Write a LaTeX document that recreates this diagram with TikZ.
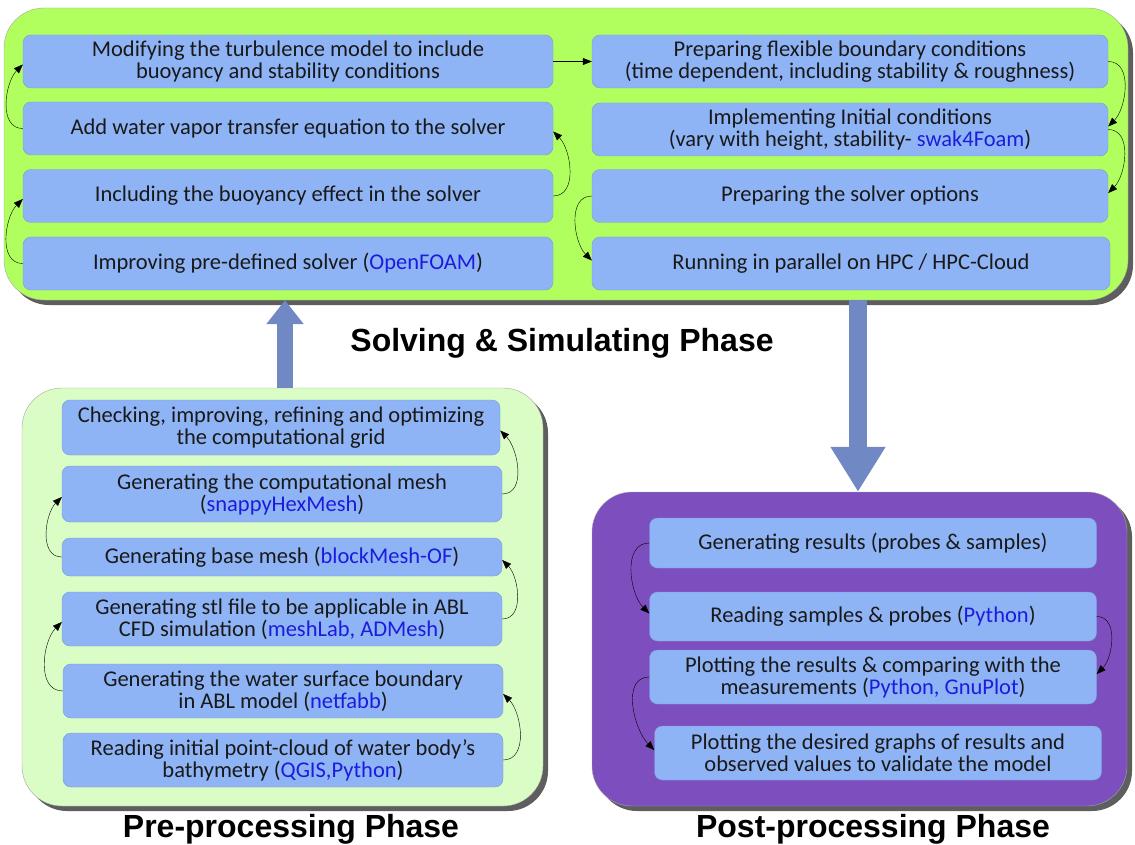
\documentclass[tikz,border=0pt]{standalone}
\usepackage{fontspec}
\newfontfamily\boxfont{Carlito}
\newfontfamily\headfont{Liberation Sans}
\usepackage{tikz}
\usetikzlibrary{arrows.meta,positioning,calc,shadows}

\definecolor{solvegreen}{RGB}{176,255,94}
\definecolor{pregreen}{RGB}{217,253,196}
\definecolor{postpurple}{RGB}{125,78,189}
\definecolor{boxblue}{RGB}{143,180,246}
\definecolor{boxline}{RGB}{120,155,215}
\definecolor{toolblue}{RGB}{28,28,220}
\definecolor{flowblue}{RGB}{112,137,196}
\newcommand{\tool}[1]{\textcolor{toolblue}{#1}}

\begin{document}
\begin{tikzpicture}[x=1pt,y=1pt,
  font={\boxfont\fontsize{22.5}{22}\selectfont},
  panel/.style={rounded corners=40pt,draw=black!35,inner sep=0pt,
    drop shadow={shadow xshift=5pt,shadow yshift=-5pt,fill=black!70,opacity=.9}},
  stepbox/.style={draw=boxline,fill=boxblue,rounded corners=8pt,align=center,inner sep=0pt,text=black!90},
  link/.style={-{Triangle[length=9pt,width=7pt]},thin},
  bigarrow/.style={draw=flowblue,line width=#1},
  phasetitle/.style={font={\headfont\bfseries\fontsize{32}{36}\selectfont},anchor=base}]
\useasboundingbox (0,0) rectangle (1135,-845);

% panels
\node[panel,fill=solvegreen,minimum width=1124pt,minimum height=292pt] (solve) at (566,-154) {};
\node[panel,fill=pregreen,minimum width=521pt,minimum height=418pt] (prep) at (282.5,-597) {};
\node[panel,fill=postpurple,minimum width=535pt,minimum height=314pt] (post) at (859.5,-649) {};

% solving phase, left column
\node[stepbox,minimum width=530pt,minimum height=53pt] (sa1) at (288,-61.5) {Modifying the turbulence model to include\\buoyancy and stability conditions};
\node[stepbox,minimum width=530pt,minimum height=53pt] (sa2) at (288,-128.5) {Add water vapor transfer equation to the solver};
\node[stepbox,minimum width=530pt,minimum height=53pt] (sa3) at (288,-196) {Including the buoyancy effect in the solver};
\node[stepbox,minimum width=530pt,minimum height=53pt] (sa4) at (288,-263.5) {Improving pre-defined solver (\tool{OpenFOAM})};
% solving phase, right column
\node[stepbox,minimum width=516pt,minimum height=53pt] (sb1) at (850,-61.5) {Preparing flexible boundary conditions\\(time dependent, including stability \& roughness)};
\node[stepbox,minimum width=516pt,minimum height=53pt] (sb2) at (850,-129.5) {Implementing Initial conditions\\(vary with height, stability- \tool{swak4Foam})};
\node[stepbox,minimum width=516pt,minimum height=53pt] (sb3) at (850,-196) {Preparing the solver options};
\node[stepbox,minimum width=518pt,minimum height=53pt] (sb4) at (851,-263.5) {Running in parallel on HPC / HPC-Cloud};

% pre-processing
\node[stepbox,minimum width=438pt,minimum height=55pt] (p1) at (281,-427.5) {Checking, improving, refining and optimizing\\the computational grid};
\node[stepbox,minimum width=440pt,minimum height=56pt] (p2) at (282,-494) {Generating the computational mesh\\(\tool{snappyHexMesh})};
\node[stepbox,minimum width=440pt,minimum height=38pt] (p3) at (282,-557) {Generating base mesh (\tool{blockMesh-OF})};
\node[stepbox,minimum width=440pt,minimum height=54pt] (p4) at (282,-619) {Generating stl file to be applicable in ABL\\CFD simulation (\tool{meshLab, ADMesh})};
\node[stepbox,minimum width=440pt,minimum height=54pt] (p5) at (283,-691) {Generating the water surface boundary\\in ABL model (\tool{netfabb})};
\node[stepbox,minimum width=440pt,minimum height=54pt] (p6) at (283,-760) {Reading initial point-cloud of water body’s\\bathymetry (\tool{QGIS,Python})};

% post-processing
\node[stepbox,minimum width=447pt,minimum height=50pt] (q1) at (873,-543) {Generating results (probes \& samples)};
\node[stepbox,minimum width=447pt,minimum height=49pt] (q2) at (873,-616.5) {Reading samples \& probes (\tool{Python})};
\node[stepbox,minimum width=447pt,minimum height=54pt] (q3) at (873,-677) {Plotting the results \& comparing with the\\measurements (\tool{Python, GnuPlot})};
\node[stepbox,minimum width=447pt,minimum height=54pt] (q4) at (878,-753) {Plotting the desired graphs of results and\\observed values to validate the model};

% titles
\node[phasetitle] (solvetitle) at (562,-351) {Solving \& Simulating Phase};
\node[phasetitle] (pretitle) at (291,-837) {Pre-processing Phase};
\node[phasetitle] (posttitle) at (873,-837) {Post-processing Phase};

% flow between phases
\draw[bigarrow=16pt,-{Triangle[length=24pt,width=36pt]}] ([xshift=2.5pt]prep.north) -- ([xshift=2.5pt]prep.north |- solve.south);
\draw[bigarrow=18pt,-{Triangle[length=45pt,width=52pt]}] ([xshift=-1.5pt]post.north |- solve.south) -- ([xshift=-1.5pt]post.north);

% step order
\draw[link] (sa4.west) to[out=180,in=225] ([yshift=-3pt]sa3.west);
\draw[link] (sa3.east) to[out=0,in=-45] ([yshift=-3pt]sa2.east);
\draw[link] (sa2.west) to[out=180,in=225] ([yshift=-3pt]sa1.west);
\draw[link] (sa1.east) -- (sb1.west);
\draw[link] (sb1.east) to[out=0,in=45] ([yshift=3pt]sb2.east);
\draw[link] (sb2.east) to[out=0,in=45] ([yshift=3pt]sb3.east);
\draw[link] (sb3.west) to[out=180,in=135] ([yshift=3pt]sb4.west);
\draw[link] (p6.east) to[out=0,in=-45] ([yshift=-3pt]p5.east);
\draw[link] (p5.west) to[out=180,in=225] ([yshift=-3pt]p4.west);
\draw[link] (p4.east) to[out=0,in=-45] ([yshift=-3pt]p3.east);
\draw[link] (p3.west) to[out=180,in=225] ([yshift=-3pt]p2.west);
\draw[link] (p2.east) to[out=0,in=-45] ([yshift=-3pt]p1.east);
\draw[link] (q1.west) to[out=180,in=135] ([yshift=3pt]q2.west);
\draw[link] (q2.east) to[out=0,in=45] ([yshift=3pt]q3.east);
\draw[link] (q3.west) to[out=180,in=135] ([yshift=3pt]q4.west);
\end{tikzpicture}
\end{document}
